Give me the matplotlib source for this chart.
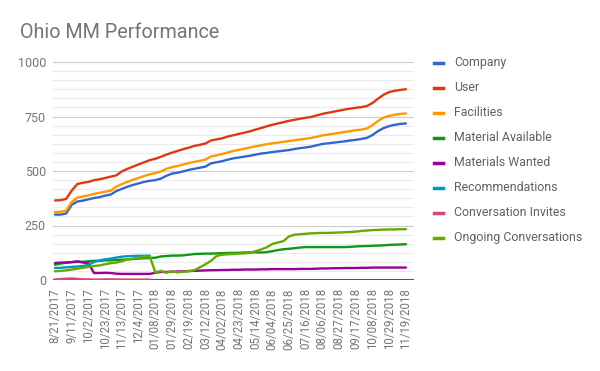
import numpy as np
import matplotlib
matplotlib.use("Agg")
import matplotlib.pyplot as plt
from matplotlib.lines import Line2D

plt.rcParams['font.family'] = ['Roboto', 'DejaVu Sans']

dates = ["8/21/2017", "8/28/2017", "9/4/2017", "9/11/2017", "9/18/2017", "9/25/2017",
         "10/2/2017", "10/9/2017", "10/16/2017", "10/23/2017", "10/30/2017", "11/6/2017",
         "11/13/2017", "11/20/2017", "11/27/2017", "12/4/2017", "12/11/2017", "12/18/2017",
         "01/08/2018", "01/15/2018", "01/22/2018", "01/29/2018", "02/05/2018", "02/12/2018",
         "02/19/2018", "02/26/2018", "03/05/2018", "03/12/2018", "03/19/2018", "03/26/2018",
         "04/02/2018", "04/09/2018", "04/16/2018", "04/23/2018", "04/30/2018", "05/07/2018",
         "05/14/2018", "05/21/2018", "05/28/2018", "06/04/2018", "06/11/2018", "06/18/2018",
         "06/25/2018", "07/02/2018", "07/09/2018", "07/16/2018", "07/23/2018", "07/30/2018",
         "08/06/2018", "08/13/2018", "08/20/2018", "08/27/2018", "09/03/2018", "09/10/2018",
         "09/17/2018", "09/24/2018", "10/01/2018", "10/08/2018", "10/15/2018", "10/22/2018",
         "10/29/2018", "11/05/2018", "11/12/2018", "11/19/2018"]

company = [300, 300, 305, 345, 360, 364, 370, 376, 380, 387, 392, 408, 418, 428, 436, 443,
           450, 455, 458, 465, 478, 488, 492, 498, 505, 510, 515, 520, 535, 540, 545, 552,
           558, 562, 566, 570, 575, 580, 583, 587, 590, 593, 596, 601, 605, 608, 612, 618,
           624, 627, 630, 633, 636, 640, 643, 647, 652, 665, 683, 697, 706, 712, 716, 718]

user = [365, 366, 372, 410, 440, 446, 450, 458, 462, 468, 474, 480, 498, 510, 520, 530,
        540, 550, 556, 565, 575, 584, 592, 600, 607, 615, 620, 626, 640, 645, 650, 658,
        664, 670, 676, 682, 690, 697, 705, 712, 718, 724, 730, 735, 740, 744, 748, 755,
        762, 767, 772, 777, 782, 786, 790, 793, 798, 812, 832, 850, 862, 868, 872, 875]

facilities = [312, 313, 318, 358, 378, 383, 388, 395, 400, 405, 410, 428, 440, 450, 460, 468,
              477, 485, 490, 498, 510, 518, 523, 530, 536, 542, 547, 552, 567, 572, 578, 585,
              592, 597, 602, 608, 613, 618, 623, 627, 630, 634, 637, 641, 645, 648, 652, 657,
              663, 667, 671, 675, 679, 683, 687, 690, 695, 710, 730, 745, 753, 758, 762, 764]

material_available = [70, 75, 80, 82, 83, 84, 86, 88, 88, 90, 90, 92, 93, 94, 96, 98,
                      100, 101, 102, 108, 110, 112, 112, 113, 116, 119, 120, 121, 121, 122, 123, 124,
                      124, 125, 126, 127, 127, 126, 128, 132, 137, 141, 143, 146, 149, 151, 151, 151,
                      151, 151, 151, 151, 151, 152, 154, 155, 156, 157, 158, 159, 161, 162, 163, 164]

materials_wanted = [78, 80, 80, 82, 86, 80, 78, 32, 32, 33, 32, 29, 28, 28, 28, 28,
                    28, 28, 33, 37, 37, 38, 39, 40, 41, 42, 43, 44, 45, 45, 46, 46,
                    47, 47, 48, 48, 48, 49, 49, 50, 50, 50, 50, 50, 51, 51, 51, 52,
                    53, 53, 54, 54, 55, 55, 55, 56, 56, 57, 57, 57, 57, 57, 57, 57]

recommendations = [55, 56, 58, 60, 62, 64, 70, 82, 90, 95, 98, 103, 107, 109, 110, 111,
                   111, 112] + [np.nan] * 46

conversation_invites = [3, 4, 6, 7, 5, 3, 3, 2, 2, 3, 3, 3, 2, 2, 2, 2,
                        2, 2] + [np.nan] * 46

ongoing_conversations = [40, 42, 44, 48, 52, 56, 60, 64, 67, 72, 77, 80, 86, 94, 98, 102,
                         106, 110, 35, 42, 33, 40, 35, 38, 40, 45, 58, 72, 88, 110, 116, 118,
                         119, 121, 122, 125, 132, 140, 150, 165, 172, 178, 200, 208, 210, 212,
                         214, 215, 216, 216, 217, 218, 219, 220, 222, 225, 227, 229, 230, 231,
                         232, 232, 233, 233]

series_names = ["Company", "User", "Facilities", "Material Available", "Materials Wanted",
                "Recommendations", "Conversation Invites", "Ongoing Conversations"]
series_values = [company, user, facilities, material_available, materials_wanted,
                 recommendations, conversation_invites, ongoing_conversations]
colors = ["#3366cc", "#dc3912", "#ff9900", "#109618", "#990099", "#0099c6", "#dd4477", "#66aa00"]

y_ticks = [0, 250, 500, 750, 1000]

fig = plt.figure(figsize=(6, 3.71), dpi=100)
ax = fig.add_axes([53 / 600, 1 - 280 / 371, (414 - 53) / 600, 218 / 371])

x = np.arange(len(dates))

# grid
for v in np.arange(0, 1000.1, 250 / 6):
    if min(abs(v - t) for t in y_ticks) < 1e-6:
        continue
    ax.axhline(v, color="#ebebeb", lw=0.8, zorder=0)
for t in y_ticks[1:]:
    ax.axhline(t, color="#cccccc", lw=0.8, zorder=0)
ax.axhline(0, color="#333333", lw=1.2, zorder=1)

for name, vals, c in zip(series_names, series_values, colors):
    ax.plot(x, vals, color=c, lw=1.7, zorder=3, solid_capstyle="round", solid_joinstyle="round")

ax.set_ylim(0, 1000)
ax.set_xlim(-0.36, 64.45)
ax.set_yticks(y_ticks)
ax.set_yticklabels([str(t) for t in y_ticks], fontsize=9, color="#757575")
ax.set_xticks(x[::3])
ax.set_xticklabels(dates[::3], rotation=90, fontsize=8.3, color="#757575")
ax.tick_params(axis="both", length=0)
ax.tick_params(axis="y", pad=5)
ax.tick_params(axis="x", pad=6)
for s in ax.spines.values():
    s.set_visible(False)

fig.text(20 / 600, 1 - 33 / 371, "Ohio MM Performance", fontsize=14.2, color="#757575",
         ha="left", va="center")

# legend
for k, (name, c) in enumerate(zip(series_names, colors)):
    yy = 1 - (62.7 + 25 * k) / 371
    fig.add_artist(Line2D([434 / 600, 443 / 600], [yy, yy], color=c, lw=2.5,
                          transform=fig.transFigure))
    fig.text(454 / 600, yy, name, fontsize=8.9, color="#616161", ha="left", va="center")

fig.savefig("out.png", dpi=100)
